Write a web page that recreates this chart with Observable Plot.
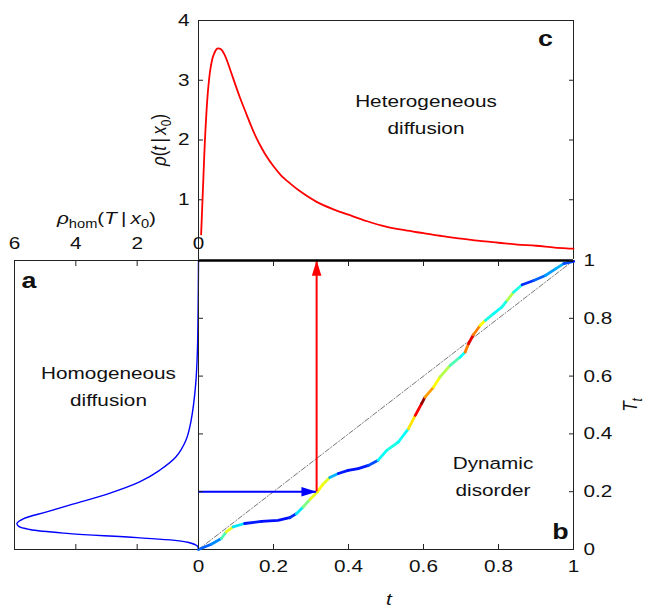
<!DOCTYPE html>
<html>
<head>
<meta charset="utf-8">
<script src="https://cdn.jsdelivr.net/npm/d3@7"></script>
<script src="https://cdn.jsdelivr.net/npm/@observablehq/plot@0.6"></script>
<style>
  body { margin: 0; background: #fff; }
  #chart { position: relative; width: 646px; height: 608px; background: #fff; }
  #chart svg { position: absolute; left: 0; top: 0; }
</style>
</head>
<body>
<div id="chart"></div>
<script>
// ---------- data ----------
// panel c: heterogeneous first-passage density rho(t|x0)
const cTime = [0.007, 0.012, 0.018, 0.025, 0.032, 0.04, 0.05, 0.06, 0.07, 0.08, 0.092, 0.11, 0.128, 0.14, 0.154, 0.168, 0.18, 0.2, 0.22, 0.243, 0.27, 0.315, 0.36, 0.4, 0.45, 0.5, 0.55, 0.6, 0.65, 0.7, 0.75, 0.8, 0.85, 0.9, 0.95, 1.0];
const cRho  = [0.42, 1.2, 2.1, 2.8, 3.2, 3.42, 3.53, 3.52, 3.42, 3.26, 3.04, 2.72, 2.43, 2.24, 2.04, 1.87, 1.74, 1.56, 1.41, 1.28, 1.145, 0.965, 0.84, 0.75, 0.64, 0.55, 0.49, 0.44, 0.39, 0.35, 0.31, 0.28, 0.25, 0.23, 0.2, 0.18];

// panel a: homogeneous density rho_hom(T|x0)
const aT   = [0, 0.011, 0.025, 0.041, 0.055, 0.069, 0.08, 0.09, 0.107, 0.13, 0.157, 0.191, 0.234, 0.274, 0.32, 0.378, 0.447, 0.574, 0.69, 0.86, 1];
const aRho = [0, 0.03, 0.35, 2.0, 4.2, 5.5, 5.86, 5.92, 5.7, 4.95, 4.1, 3.0, 1.92, 1.27, 0.74, 0.41, 0.24, 0.09, 0.035, 0.01, 0];

// panel b: internal time T_t versus t, coloured by local rate (0 = slow, 1 = fast)
const bTime = [0, 0.034, 0.061, 0.074, 0.092, 0.123, 0.168, 0.212, 0.243, 0.261, 0.279, 0.297, 0.317, 0.332, 0.35, 0.373, 0.399, 0.426, 0.453, 0.479, 0.502, 0.533, 0.56, 0.578, 0.595, 0.604, 0.627, 0.644, 0.671, 0.698, 0.711, 0.72, 0.733, 0.751, 0.765, 0.787, 0.809, 0.823, 0.84, 0.863, 0.894, 0.925, 0.952, 0.974, 1.0];
const bTt   = [0, 0.018, 0.038, 0.061, 0.078, 0.09, 0.097, 0.101, 0.11, 0.124, 0.147, 0.173, 0.199, 0.226, 0.249, 0.263, 0.274, 0.28, 0.291, 0.309, 0.343, 0.372, 0.418, 0.464, 0.505, 0.527, 0.562, 0.597, 0.637, 0.666, 0.683, 0.712, 0.743, 0.775, 0.793, 0.816, 0.839, 0.862, 0.89, 0.916, 0.931, 0.948, 0.971, 0.989, 0.997];
const bRate = [0.22, 0.26, 0.45, 0.6, 0.35, 0.15, 0.14, 0.14, 0.17, 0.35, 0.5, 0.6, 0.62, 0.6, 0.3, 0.15, 0.14, 0.15, 0.2, 0.38, 0.4, 0.38, 0.65, 0.88, 0.98, 0.72, 0.62, 0.55, 0.45, 0.38, 0.75, 0.9, 0.75, 0.62, 0.4, 0.38, 0.4, 0.55, 0.4, 0.17, 0.22, 0.28, 0.3, 0.2, 0.14];

// mapping arrows: t where T_t = 0.2
const arrowTime = [0.315];
const arrowTt   = [0.2];
const diagonal  = [0, 1];

// ticks
const tTicks     = [0, 0.2, 0.4, 0.6, 0.8, 1];
const innerTicks = [0.2, 0.4, 0.6, 0.8];
const rhoTicks   = [1, 2, 3, 4];
const rhoInner   = [1, 2, 3];
const homTicks   = [6, 4, 2, 0];
const homInner   = [4, 2];

// texts
const labelC  = "ρ(t|x0)";
const labelA  = "ρhom(T|x0)";
const labelBy = "Tt";
const labelBx = "t";
const noteC = "Heterogeneous\ndiffusion";
const noteA = "Homogeneous\ndiffusion";
const noteB = "Dynamic\ndisorder";

// ---------- tables ----------
const cData = cTime.map((t, i) => ({t, rho: cRho[i]}));
const aData = aT.map((T, i) => ({T, rho: aRho[i]}));
const bData = bTime.map((t, i) => ({t, T: bTt[i], rate: bRate[i]}));
const arrowData = arrowTime.map((t, i) => ({t, T: arrowTt[i]}));

// ---------- styling ----------
const ink = "#222";
const W = 646, H = 608;
const fmt = d3.format("~g");
const none = () => "";
const baseStyle = {
  fontFamily: "'Liberation Sans', Arial, Helvetica, sans-serif",
  fontSize: "17px",
  background: "transparent",
  color: "#111",
  overflow: "visible"
};
const txt = {textAnchor: "middle", lineAnchor: "middle"};
const arrowHead = {
  draw(context, size) {
    const r = Math.sqrt(size / Math.PI);
    context.moveTo(0, 0);
    context.lineTo(0.6 * r, 1.9 * r);
    context.lineTo(-0.6 * r, 1.9 * r);
    context.closePath();
  }
};

// ---------- panel c ----------
const plotC = Plot.plot({
  width: W, height: H,
  marginLeft: 198, marginRight: 73, marginTop: 20, marginBottom: 349,
  style: baseStyle,
  x: {domain: [0, 1], axis: null},
  y: {domain: [0, 4]},
  marks: [
    Plot.ruleX([0, 1], {stroke: ink}),
    Plot.ruleY([4], {stroke: ink}),
    Plot.axisY(rhoTicks, {anchor: "left", tickSize: -5, tickPadding: 14, tickFormat: fmt, label: null, stroke: ink}),
    Plot.axisY(rhoInner, {anchor: "right", tickSize: -5, tickFormat: none, label: null, stroke: ink}),
    Plot.line(cData, {x: "t", y: "rho", stroke: "#ff0000", strokeWidth: 1.8, curve: "catmull-rom"}),
    Plot.text([labelC], {...txt, frameAnchor: "left", rotate: -90, dx: -39}),
    Plot.text([noteC], {...txt, frameAnchor: "middle", dx: 40, dy: -28, lineHeight: 1.55}),
    Plot.text(["c"], {...txt, frameAnchor: "top-right", dx: -28, dy: 18, fontWeight: "bold", fontSize: 22})
  ]
});

// ---------- panel a ----------
const plotA = Plot.plot({
  width: W, height: H,
  marginLeft: 14, marginRight: 448, marginTop: 260, marginBottom: 59,
  style: baseStyle,
  x: {domain: [6, 0]},
  y: {domain: [0, 1], axis: null},
  marks: [
    Plot.frame({stroke: ink}),
    Plot.line(aData, {x: "rho", y: "T", stroke: "#0000ff", strokeWidth: 1.4, curve: "catmull-rom"}),
    Plot.axisX(homTicks, {anchor: "top", tickSize: -5, tickPadding: 17, tickFormat: fmt, label: null, stroke: ink}),
    Plot.axisX(homInner, {anchor: "bottom", tickSize: -5, tickFormat: none, label: null, stroke: ink}),
    Plot.text([labelA], {...txt, frameAnchor: "top", dy: -42}),
    Plot.text([noteA], {...txt, frameAnchor: "middle", dx: 2, dy: -21, lineHeight: 1.55}),
    Plot.text(["a"], {...txt, frameAnchor: "top-left", dx: 14.5, dy: 20.5, fontWeight: "bold", fontSize: 22})
  ]
});

// ---------- panel b ----------
const plotB = Plot.plot({
  width: W, height: H,
  marginLeft: 198, marginRight: 73, marginTop: 260, marginBottom: 59,
  style: baseStyle,
  x: {domain: [0, 1]},
  y: {domain: [0, 1]},
  color: {
    type: "linear",
    domain: [0, 0.125, 0.375, 0.625, 0.875, 1],
    range: ["#00008f", "#0000ff", "#00ffff", "#ffff00", "#ff0000", "#800000"]
  },
  marks: [
    Plot.frame({stroke: ink}),
    Plot.line(diagonal, {x: d => d, y: d => d, stroke: "#666", strokeWidth: 0.9, strokeDasharray: "5,2,1,2"}),
    Plot.line(bData, {x: "t", y: "T", stroke: "rate", z: null, strokeWidth: 2.8, strokeLinecap: "round", strokeLinejoin: "round"}),
    Plot.ruleY(arrowData, {y: "T", x1: 0, x2: "t", stroke: "#0000ff", strokeWidth: 2}),
    Plot.ruleX(arrowData, {x: "t", y1: "T", y2: 1, stroke: "#ff0000", strokeWidth: 2}),
    Plot.dot(arrowData, {x: "t", y: "T", symbol: arrowHead, r: 8, fill: "#0000ff", rotate: 90}),
    Plot.dot(arrowData, {x: "t", y: 1, symbol: arrowHead, r: 8, fill: "#ff0000"}),
    Plot.ruleY([1], {stroke: "#000", strokeWidth: 2.5}),
    Plot.axisX(tTicks, {anchor: "bottom", tickSize: -5, tickPadding: 15, tickFormat: fmt, label: null, stroke: ink}),
    Plot.axisX(innerTicks, {anchor: "top", tickSize: -5, tickFormat: none, label: null, stroke: ink}),
    Plot.axisY(tTicks, {anchor: "right", tickSize: -5, tickPadding: 15, tickFormat: fmt, label: null, stroke: ink}),
    Plot.axisY(innerTicks, {anchor: "left", tickSize: -5, tickFormat: none, label: null, stroke: ink}),
    Plot.text([labelBx], {...txt, frameAnchor: "bottom", dx: 3, dy: 50, fontStyle: "italic"}),
    Plot.text([labelBy], {...txt, frameAnchor: "right", rotate: -90, dx: 57}),
    Plot.text([noteB], {...txt, frameAnchor: "middle", dx: 107, dy: 69, lineHeight: 1.55}),
    Plot.text(["b"], {...txt, frameAnchor: "bottom-right", dx: -13, dy: -18, fontWeight: "bold", fontSize: 22})
  ]
});

// ---------- rich labels & horizontal text stretch of the original figure ----------
const it = s => `<tspan font-style="italic">${s}</tspan>`;
const sub = (s, italic) => `<tspan font-size="12" dy="4"${italic ? ' font-style="italic"' : ""}>${s}</tspan>`;
const richText = {
  [labelC]: `${it("ρ")}(${it("t")}\u2009|\u2009${it("x")}${sub("0")}<tspan dy="-4">)</tspan>`,
  [labelA]: `${it("ρ")}${sub("hom")}<tspan dy="-4">(</tspan>${it("T")}\u2009|\u2009${it("x")}${sub("0")}<tspan dy="-4">)</tspan>`,
  [labelBy]: `${it("T")}${sub("t", true)}`
};
const K = 1.22;
function finish(svg) {
  svg.querySelectorAll("text").forEach(t => {
    if (t.children.length === 0 && richText[t.textContent]) t.innerHTML = richText[t.textContent];
    const tr = t.getAttribute("transform");
    if (tr && /rotate/.test(tr)) t.setAttribute("transform", tr + ` scale(1,${K})`);
    else if (tr) t.setAttribute("transform", tr + ` scale(${K},1)`);
    else {
      const x = parseFloat(t.getAttribute("x")) || 0;
      t.setAttribute("transform", `translate(${x},0) scale(${K},1) translate(${-x},0)`);
    }
  });
  return svg;
}

const chart = document.getElementById("chart");
[plotC, plotA, plotB].forEach(p => chart.appendChild(finish(p)));
</script>
</body>
</html>
